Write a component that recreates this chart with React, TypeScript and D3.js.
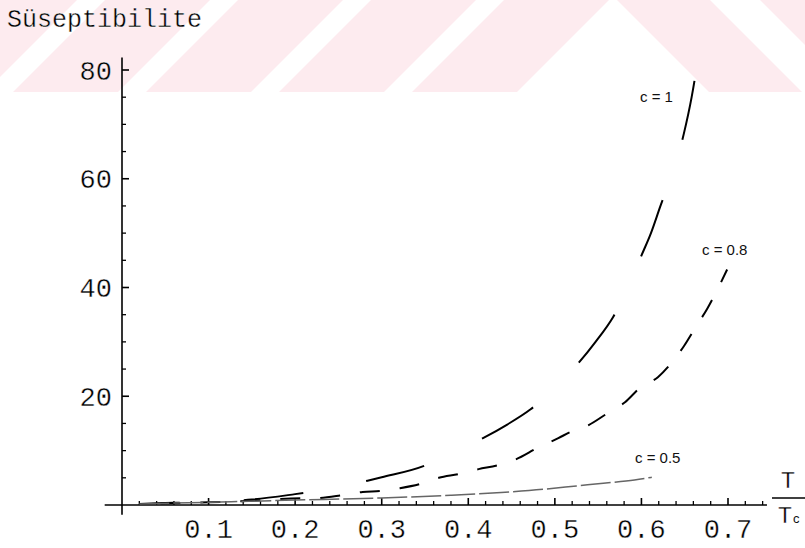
import React from 'react';
import * as d3 from 'd3';

// susceptibility vs reduced temperature T/Tc
const c1T = [0.02, 0.06, 0.1, 0.15, 0.2, 0.25, 0.282, 0.3, 0.349, 0.38, 0.417, 0.445, 0.472, 0.5, 0.524, 0.547, 0.567, 0.585, 0.599, 0.611, 0.622, 0.637, 0.649, 0.658, 0.665];
const c1V = [0.2, 0.4, 0.6, 1.0, 2.0, 3.2, 4.4, 5.1, 7.2, 9.5, 12.3, 14.8, 17.6, 21.5, 25.5, 30, 34.5, 40, 45.5, 50, 55, 61.5, 68.3, 75, 81.7];

const c08T = [0.02, 0.1, 0.15, 0.195, 0.229, 0.254, 0.278, 0.299, 0.321, 0.345, 0.366, 0.389, 0.412, 0.434, 0.455, 0.48, 0.504, 0.519, 0.539, 0.561, 0.581, 0.598, 0.619, 0.635, 0.649, 0.663, 0.676, 0.687, 0.699];
const c08V = [0.2, 0.5, 0.8, 1.2, 1.3, 1.8, 2.4, 2.6, 3.1, 3.9, 5.0, 5.7, 6.6, 7.3, 8.4, 10.5, 12.3, 13.5, 14.7, 16.9, 18.9, 21.5, 23.5, 26.2, 29.2, 32.8, 36.1, 39.4, 43.3];

const c05T = [0.02, 0.1, 0.2, 0.3, 0.38, 0.438, 0.488, 0.525, 0.556, 0.592, 0.612];
const c05V = [0.2, 0.5, 0.9, 1.3, 1.8, 2.3, 2.9, 3.5, 4.0, 4.6, 5.1];

const seriesLabels = ['c = 1', 'c = 0.8', 'c = 0.5'];
const xTicks = [0.1, 0.2, 0.3, 0.4, 0.5, 0.6, 0.7];
const xTickLabels = ['0.1', '0.2', '0.3', '0.4', '0.5', '0.6', '0.7'];
const yTicks = [20, 40, 60, 80];
const yTickLabels = ['20', '40', '60', '80'];

const W = 805;
const H = 548;
const mono = '"Liberation Mono", "DejaVu Sans Mono", monospace';
const sans = '"Liberation Sans", Arial, sans-serif';

const x = d3.scaleLinear().domain([0, 0.7]).range([122, 728]);
const y = d3.scaleLinear().domain([0, 80]).range([505, 70]);

const line = d3
  .line<[number, number]>()
  .x(d => x(d[0]))
  .y(d => y(d[1]))
  .curve(d3.curveMonotoneX);

const zip = (ts: number[], vs: number[]) => ts.map((t, i) => [t, vs[i]] as [number, number]);

// shift the dash pattern so a dash starts at the given t
const dashOffset = (pts: [number, number][], anchor: number, period: number) => {
  let len = 0;
  for (let i = 1; i < pts.length && pts[i][0] <= anchor; i++) {
    len += Math.hypot(x(pts[i][0]) - x(pts[i - 1][0]), y(pts[i][1]) - y(pts[i - 1][1]));
  }
  return period - (len % period);
};

const curves = [
  { pts: zip(c1T, c1V), dash: [60, 64], anchor: 0.282, color: '#000', width: 2, label: seriesLabels[0], lx: 640, ly: 102 },
  { pts: zip(c08T, c08V), dash: [20, 20], anchor: 0.229, color: '#000', width: 2, label: seriesLabels[1], lx: 702, ly: 255 },
  { pts: zip(c05T, c05V), dash: [30, 4], anchor: 0.02, color: '#666', width: 1.5, label: seriesLabels[2], lx: 635, ly: 463 },
];

// the faint pink watermark across the top of the scan
const wmBands = [-120, 13, 146, 279, 412];

// slight white outline over the glyphs for the scan's light strokes
const thin = { stroke: '#fff', strokeWidth: 0.35 };

const App = () => {
  const xMinor = d3.range(1, 38).filter(i => i % 5 !== 0).map(i => i * 0.02);
  const yMinor = d3.range(1, 17).filter(i => i % 4 !== 0).map(i => i * 5);

  return (
    <svg
      width={W}
      height={H}
      style={{ position: 'absolute', left: 0, top: 0, background: '#fff' }}
    >
      <defs>
        <clipPath id="wm">
          <rect x={0} y={0} width={W} height={92} />
        </clipPath>
      </defs>
      <g clipPath="url(#wm)" fill="#fdebef">
        {wmBands.map(s => (
          <polygon key={s} points={`${s},92 ${s + 105},92 ${s + 197},0 ${s + 92},0`} />
        ))}
        <polygon points="617,0 710,0 802,92 709,92" />
        <polygon points="760,0 860,0 952,92 852,92" />
      </g>

      <text x={7} y={27} fontFamily={mono} fontSize={25} fill="#000" {...thin}>Süseptibilite</text>

      {/* axes */}
      <g stroke="#000" strokeWidth={1.6} fill="none">
        <line x1={x(0)} x2={x(0)} y1={y(82.3)} y2={y(-1.8)} />
        <line x1={x(-0.02)} x2={x(0.745)} y1={y(0)} y2={y(0)} />
        {xTicks.map(t => (
          <line key={t} x1={x(t)} x2={x(t)} y1={y(0)} y2={y(0) - 7} />
        ))}
        {xMinor.map(t => (
          <line key={t} x1={x(t)} x2={x(t)} y1={y(0)} y2={y(0) - 4} strokeWidth={1.3} />
        ))}
        {yTicks.map(v => (
          <line key={v} x1={x(0)} x2={x(0) + 7} y1={y(v)} y2={y(v)} />
        ))}
        {yMinor.map(v => (
          <line key={v} x1={x(0)} x2={x(0) + 4} y1={y(v)} y2={y(v)} strokeWidth={1.3} />
        ))}
      </g>

      <g fontFamily={mono} fontSize={27} fill="#000" {...thin}>
        {xTicks.map((t, i) => (
          <text key={t} x={x(t)} y={538} textAnchor="middle">{xTickLabels[i]}</text>
        ))}
        {yTicks.map((v, i) => (
          <text key={v} x={112} y={y(v)} dy="0.36em" textAnchor="end">{yTickLabels[i]}</text>
        ))}
      </g>

      {/* T / Tc */}
      <text x={788} y={488} fontFamily={mono} fontSize={24} textAnchor="middle" fill="#000" {...thin}>T</text>
      <line x1={772} x2={805} y1={498} y2={498} stroke="#000" strokeWidth={1.5} />
      <text x={785} y={523} fontFamily={mono} fontSize={24} textAnchor="middle" fill="#000" {...thin}>T</text>
      <text x={793} y={523} fontFamily={sans} fontSize={13} fill="#111">c</text>

      {curves.map(c => (
        <g key={c.label}>
          <path
            d={line(c.pts) || ''}
            fill="none"
            stroke={c.color}
            strokeWidth={c.width}
            strokeDasharray={c.dash.join(' ')}
            strokeDashoffset={dashOffset(c.pts, c.anchor, c.dash[0] + c.dash[1])}
          />
          <text x={c.lx} y={c.ly} fontFamily={sans} fontSize={15} fill="#111">{c.label}</text>
        </g>
      ))}
    </svg>
  );
};

export default App;
